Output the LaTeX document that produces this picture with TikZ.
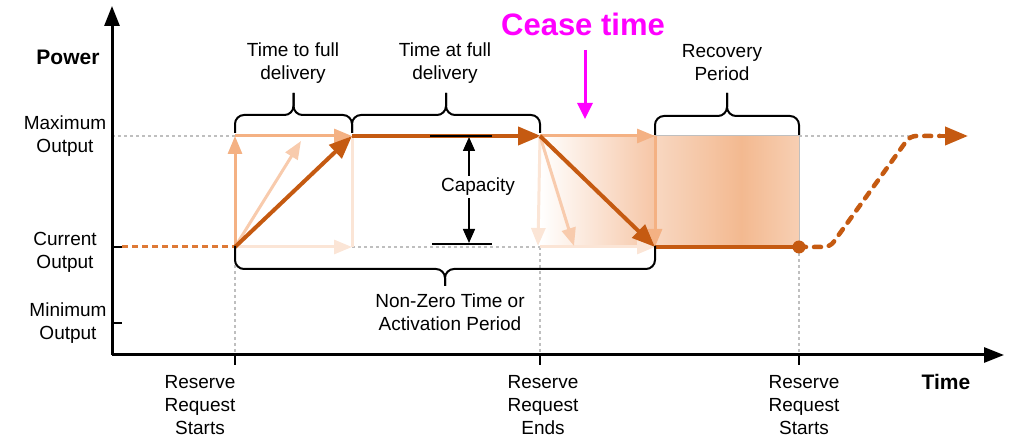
\documentclass[tikz,border=0pt]{standalone}
\usepackage{fontspec}
\setmainfont{Liberation Sans}
\usetikzlibrary{arrows.meta,calc}

\definecolor{darkor}{HTML}{C55A11}
\definecolor{dashor}{HTML}{DE7A36}
\definecolor{midor}{HTML}{F4B183}
\definecolor{lightor}{HTML}{F8CBAD}
\definecolor{paleor}{HTML}{FBE5D6}
\definecolor{guide}{HTML}{BFBFBF}
\definecolor{cease}{HTML}{FF00FF}
\definecolor{recA}{HTML}{F8D7C1}
\definecolor{recB}{HTML}{F3B990}
\definecolor{recC}{HTML}{F7CFB3}
\definecolor{fallEnd}{HTML}{F6C6A6}

\pgfdeclarehorizontalshading{recovery}{100bp}{color(0bp)=(recA); color(25bp)=(recA); color(55bp)=(recB); color(75bp)=(recC); color(100bp)=(recC)}
\pgfdeclarehorizontalshading{falling}{100bp}{color(0bp)=(white); color(25bp)=(white); color(75bp)=(fallEnd); color(100bp)=(fallEnd)}

% curly bracket: #1,#2 = x of the ends, #3 = y of the ends, #4 = y of the bar, #5 = y of the tip
\newcommand{\spanbrace}[5]{%
  \draw[bracket] (#1,#3) -- (#1,#4) -- ({(#1+#2)/2},#4) -- ({(#1+#2)/2},#5);
  \draw[bracket] (#2,#3) -- (#2,#4) -- ({(#1+#2)/2},#4) -- ({(#1+#2)/2},#5);
}

\tikzset{
  lbl/.style={font=\fontsize{19}{23}\selectfont, align=center, inner sep=0pt},
  bold/.style={font=\fontsize{21}{25}\selectfont\bfseries, inner sep=0pt},
  axisline/.style={line width=3pt, black},
  guideline/.style={guide, line width=1.2pt, dash pattern=on 3pt off 3pt},
  darkarrow/.style={darkor, line width=4pt, -{Triangle[length=23pt,width=18pt]}},
  midarrow/.style={midor, line width=3pt, -{Triangle[length=18pt,width=14pt]}},
  lightarrow/.style={lightor, line width=3pt, -{Triangle[length=18pt,width=14pt]}},
  palearrow/.style={paleor, line width=3pt, -{Triangle[length=18pt,width=14pt]}},
  bracket/.style={black, line width=2pt, rounded corners=9pt},
}

\begin{document}
\begin{tikzpicture}[x=1pt, y=-1pt]
\useasboundingbox (0,0) rectangle (1010,438);

% key points of the power profile
\coordinate (O) at (112,355);
\coordinate (Ytop) at (112,6);
\coordinate (Xend) at (1004,355);
\coordinate (start) at (235,247);
\coordinate (startMax) at (235,136);
\coordinate (full) at (352,136);
\coordinate (fullLow) at (352,247);
\coordinate (ceaseP) at (540,136);
\coordinate (ceaseLow) at (540,247);
\coordinate (back) at (655,247);
\coordinate (backMax) at (655,136);
\coordinate (recEnd) at (799,247);
\coordinate (recEndMax) at (799,136);
\coordinate (rampFoot) at (830,247);
\coordinate (rampTop) at (910,136);
\coordinate (finalTip) at (968,136);
\coordinate (curTick) at (112,247);
\coordinate (minTick) at (112,323);
\coordinate (maxLeft) at (112,136);

% shaded areas
\shade[shading=falling] (ceaseP) rectangle (back);
\shade[shading=recovery] (backMax) rectangle (recEnd);
\draw[guide, line width=1pt] (backMax) rectangle (recEnd);

% guide lines
\draw[guideline] (maxLeft) -- (startMax);
\draw[guideline] (recEndMax) -- (rampTop);
\draw[guideline] (fullLow) -- (ceaseLow);
\draw[guideline] (start) -- (start |- O);
\draw[guideline] (ceaseLow) -- (ceaseLow |- O);
\draw[guideline] (recEnd) -- (recEnd |- O);

% axes
\draw[axisline, -{Triangle[length=20pt,width=15pt]}] (O) -- (Ytop);
\draw[axisline, -{Triangle[length=20pt,width=15pt]}] (O) -- (Xend);
\draw[line width=1.5pt] (curTick) -- ++(10,0);
\draw[line width=1.5pt] (minTick) -- ++(10,0);
\draw[line width=1.2pt] (start |- O) -- ++(0,10);
\draw[line width=1.2pt] (ceaseLow |- O) -- ++(0,10);
\draw[line width=1.2pt] (recEnd |- O) -- ++(0,10);

% current output before the request
\draw[dashor, line width=3pt, dash pattern=on 6pt off 4pt] ($(curTick)+(10,0)$) -- (start);

% ramp up alternatives
\draw[palearrow] (start) -- (fullLow);
\draw[paleor, line width=3pt] (fullLow) -- (full);
\draw[lightarrow] (start) -- (301,141);
\draw[midarrow] (start) -- (startMax);
\draw[midarrow] (startMax) -- (full);
\draw[darkarrow] (start) -- (full);

% full delivery
\draw[darkarrow, shorten >=-1pt] (full) -- (ceaseP);

% ramp down alternatives
\draw[palearrow] (ceaseP) -- (538,246);
\draw[palearrow] (ceaseLow) -- (back);
\draw[lightarrow] (ceaseP) -- (574,246);
\draw[midarrow] (ceaseP) -- (backMax);
\draw[midarrow] (backMax) -- (back);
\draw[darkarrow] (ceaseP) -- (back);

% recovery and next request
\draw[darkor, line width=4pt] (back) -- (recEnd);
\fill[darkor] (recEnd) circle (6.5pt);
\draw[darkor, line width=4.5pt, line cap=round, dash pattern=on 7pt off 8pt, rounded corners=6pt]
  (recEnd) -- (rampFoot) -- (rampTop) -- (940,136);
\draw[darkor, line width=4pt, -{Triangle[length=23pt,width=18pt]}] (940,136) -- (finalTip);

% capacity marker
\draw[line width=2pt] (430,136) -- (492,136);
\draw[line width=2pt] (432,244) -- (492,244);
\draw[line width=1.5pt, {Triangle[length=14pt,width=12pt]}-{Triangle[length=14pt,width=12pt]}] (469,137) -- (469,243);
\node[lbl, fill=white, inner sep=2pt] (capacity) at (478,187) {Capacity};

% braces
\spanbrace{235}{352}{133}{115}{93}
\spanbrace{352}{540}{133}{115}{93}
\spanbrace{655}{799}{135}{116}{93}
\spanbrace{235}{655}{246}{269}{286}

% cease time marker
\node[font=\fontsize{31}{36}\selectfont\bfseries, text=cease, inner sep=0pt] (ceaseLbl) at (583,24) {Cease time};
\coordinate (ceaseTip) at (585,119);
\draw[cease, line width=3pt, -{Triangle[length=16pt,width=15pt]}] (585,50) -- (ceaseTip);

% labels
\node[bold] (power) at (68,57) {Power};
\node[bold] (time) at (946,382) {Time};
\node[lbl] (maxOut) at (65,136) {Maximum\\Output};
\node[lbl] (curOut) at (65,252) {Current\\Output};
\node[lbl] (minOut) at (68,323) {Minimum\\Output};
\node[lbl] (ttf) at (293,63) {Time to full\\delivery};
\node[lbl] (taf) at (445,63) {Time at full\\delivery};
\node[lbl] (rec) at (722,63) {Recovery\\Period};
\node[lbl] (nonzero) at (450,312) {Non-Zero Time or\\Activation Period};
\node[lbl] (rs1) at (200,405) {Reserve\\Request\\Starts};
\node[lbl] (re) at (543,405) {Reserve\\Request\\Ends};
\node[lbl] (rs2) at (804,405) {Reserve\\Request\\Starts};
\end{tikzpicture}
\end{document}
